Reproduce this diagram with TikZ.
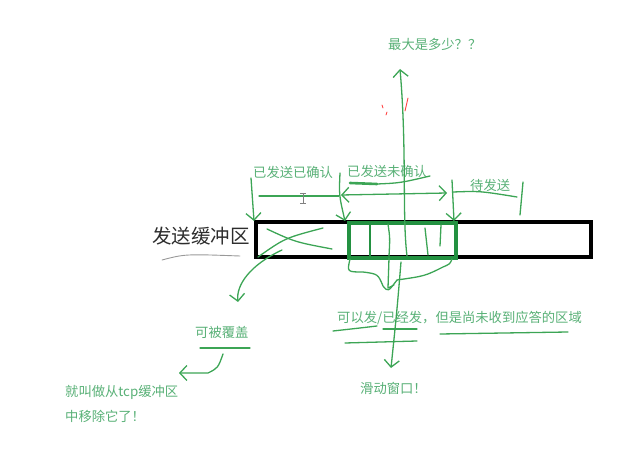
\documentclass[tikz,border=0pt]{standalone}
\usepackage{fontspec}
\setmainfont{Noto Sans CJK SC}
\usetikzlibrary{arrows.meta,positioning}
\definecolor{penGreen}{RGB}{60,165,85}
\definecolor{txtGreen}{RGB}{88,176,118}
\definecolor{boxGreen}{RGB}{35,145,65}
\definecolor{inkGray}{RGB}{45,45,45}

\begin{document}
\begin{tikzpicture}[
			x=1pt, y=-1pt,
			note/.style={anchor=west, inner sep=0pt, text=txtGreen, font=\fontsize{13.3}{15}\selectfont},
			pen/.style={draw=penGreen, line width=1.3pt, line cap=round, line join=round},
			arr/.style={pen, -{Straight Barb[length=7pt,width=15pt]}},
			redpen/.style={draw=red!75, line width=0.9pt, line cap=round}
			]
			\useasboundingbox (0,0) rectangle (629,449);
			
			\node[note] (maxq) at (388,44) {最大是多少？？};
			\node[note] (acked) at (253,172) {已发送已确认};
			\node[note] (unacked) at (347,171) {已发送未确认};
			\node[note] (pending) at (470,185) {待发送};
			\node[note] (cover) at (195,332) {可被覆盖};
			\node[note] (region) at (337,318) {可以发/已经发，但是尚未收到应答的区域};
			\node[note] (slide) at (360,388) {滑动窗口！};
			\node[note] (gone1) at (65,392) {就叫做从tcp缓冲区};
			\node[note] (gone2) at (65,416) {中移除它了！};
			\node[anchor=west, inner sep=0pt, text=inkGray, font=\fontsize{19.5}{21}\selectfont] (bufname) at (152,236) {发送缓冲区};
			
			\draw[black, line width=3.5pt] (256,222) rectangle (591,257);
			\draw[boxGreen, line width=3.5pt] (349,223) rectangle (456,258);
			\draw[boxGreen, line width=1.6pt] (370,223) -- (370,258);
			\draw[pen] (388,224) .. controls (390,238) .. (389,256);
			\draw[pen] (425,228) -- (428,255);
			\draw[pen] (441,225) -- (440,246);
			
			\draw[draw=gray!80, line width=0.9pt, line cap=round] (162,260) .. controls (185,254) .. (240,256);
			
			% up to the top
			\draw[arr] (407,256) .. controls (402,215) and (407,150) .. (400,69);
			\draw[redpen] (382,105) -- (383,108);
			\draw[redpen] (387,112) -- (386,115);
			\draw[redpen] (408,98) -- (405,111);
			
			% brackets over the buffer
			\draw[arr] (251,178) -- (254,221);
			\draw[pen] (259,196) -- (339,196);
			\draw[gray, line width=0.9pt] (303,193) -- (303,203) (300,193) -- (306,193) (300,203) -- (306,203);
			\draw[arr] (340,173) .. controls (339,195) .. (345,221);
			\draw[pen, {Straight Barb[length=7pt,width=15pt]}-{Straight Barb[length=7pt,width=15pt]}] (341,195) -- (447,193);
			\draw[penGreen, line width=2.6pt, line cap=round] (350,183) -- (377,184);
			\draw[pen] (377,184) .. controls (400,183) .. (430,176);
			\draw[arr] (452,180) -- (454,221);
			\draw[pen] (453,192) .. controls (480,191) .. (517,197);
			\draw[pen] (523,182) -- (520,215);
			
			% crossed out part
			\draw[pen] (267,229) .. controls (295,242) .. (332,249);
			\draw[pen] (258,257) .. controls (285,238) .. (323,228);
			\draw[arr] (282,250) .. controls (250,265) and (236,285) .. (238,302);
			\draw[pen] (200,348) -- (250,348);
			\draw[arr] (223,354) .. controls (218,368) .. (208,373) -- (179,373);
			
			% under the window
			\draw[pen] (350,259) .. controls (347,272) .. (363,272) .. controls (378,274) .. (383,286) .. controls (388,292) .. (397,280) .. controls (425,276) .. (443,267) .. controls (450,264) .. (452,259);
			\draw[pen] (389,258) -- (388,288) -- (394,285);
			\draw[arr] (401,262) .. controls (397,310) .. (391,368);
			\draw[pen] (333,331) .. controls (360,328) .. (377,326);
			\draw[pen] (383,329) -- (417,329);
			\draw[pen] (345,343) -- (417,341);
			\draw[pen] (440,334) -- (568,332);
		\end{tikzpicture}
\end{document}
